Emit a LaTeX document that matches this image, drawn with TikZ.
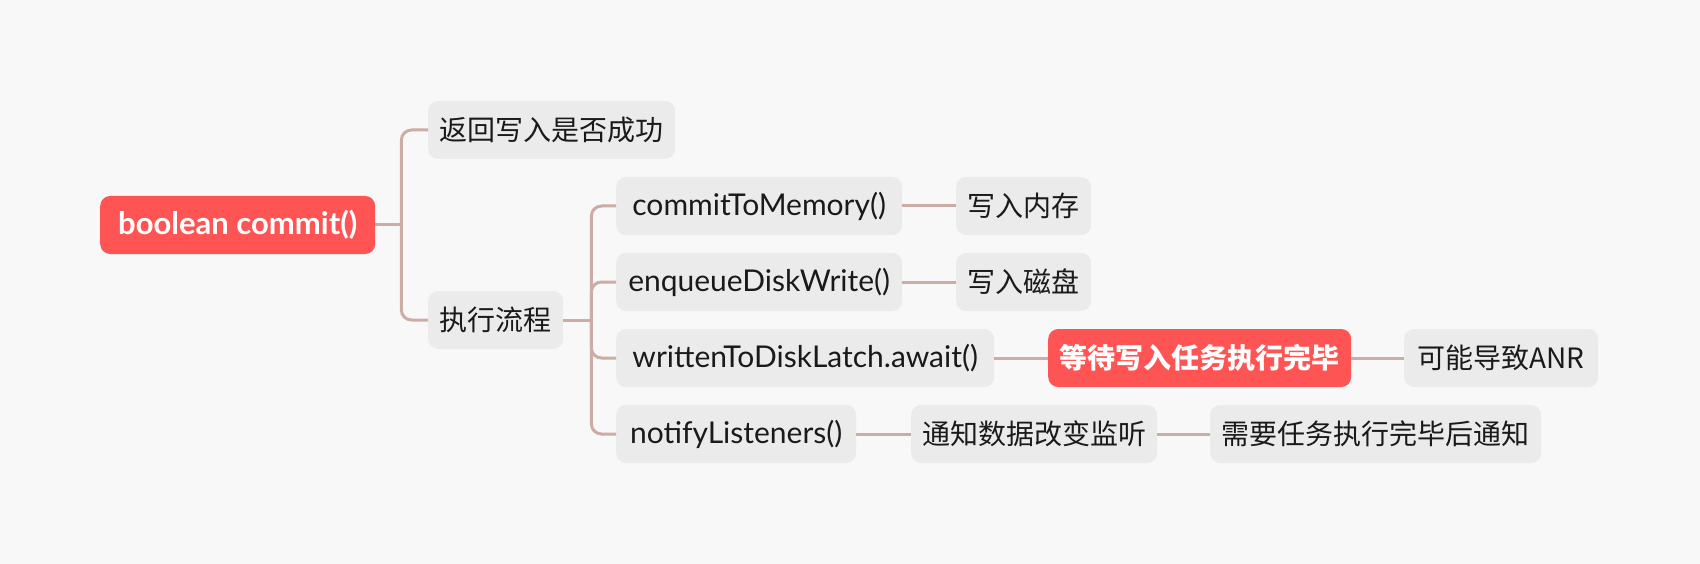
\documentclass[tikz,border=0pt]{standalone}
\usepackage{fontspec}
\setmainfont{Lato}
\newfontfamily\cjk{Noto Sans CJK SC}
\usetikzlibrary{calc}
\definecolor{bgcol}{HTML}{F8F8F8}
\definecolor{boxcol}{HTML}{EBEBEB}
\definecolor{hotcol}{HTML}{FF5454}
\definecolor{linkcol}{HTML}{CCADA5}
\definecolor{inkcol}{HTML}{1A1A1A}
\tikzset{
	topic/.style={draw=none, fill=boxcol, rounded corners=10pt, minimum height=58pt, inner sep=0pt, anchor=west, text=inkcol, font=\fontsize{30}{34}\selectfont},
	note/.style={topic, font=\cjk\fontsize{28}{32}\selectfont},
	hot/.style={topic, fill=hotcol, text=white, font=\fontsize{31}{35}\selectfont\bfseries},
	hotnote/.style={hot, font=\cjk\fontsize{28}{32}\selectfont\bfseries},
	link/.style={draw=linkcol, line width=3pt, rounded corners=10pt}
}
\begin{document}
\begin{tikzpicture}[x=1pt, y=-1pt]
			%%%%% START %%%%%
			
			\fill[bgcol] (0, 0) rectangle (1700, 564);
			
			\node[hot, minimum width=275pt] (root) at (100, 225) {boolean commit()};
			
			\node[note, minimum width=247pt] (ret) at (428, 130) {返回写入是否成功};
			\node[note, minimum width=135pt] (flow) at (428, 320) {执行流程};
			
			\node[topic, minimum width=286pt] (mem) at (616, 206) {commitToMemory()};
			\node[note, minimum width=135pt] (memnote) at (956, 206) {写入内存};
			
			\node[topic, minimum width=286pt] (disk) at (616, 282) {enqueueDiskWrite()};
			\node[note, minimum width=135pt] (disknote) at (956, 282) {写入磁盘};
			
			\node[topic, minimum width=378pt] (latch) at (616, 358) {writtenToDiskLatch.await()};
			\node[hotnote, minimum width=303pt] (wait) at (1048, 358) {等待写入任务执行完毕};
			\node[note, minimum width=194pt] (anr) at (1404, 358) {可能导致ANR};
			
			\node[topic, minimum width=240pt] (notify) at (616, 434) {notifyListeners()};
			\node[note, minimum width=246pt] (notice) at (911, 434) {通知数据改变监听};
			\node[note, minimum width=331pt] (after) at (1210, 434) {需要任务执行完毕后通知};
			
			% branches
			\coordinate (rootfork) at ($(root.east)+(26, 0)$);
			\draw[link] (root.east) -- (rootfork);
			\draw[link] (rootfork) |- (ret.west);
			\draw[link] (rootfork) |- (flow.west);
			
			\coordinate (flowfork) at ($(flow.east)+(28, 0)$);
			\draw[link] (flow.east) -- (flowfork);
			\draw[link] (flowfork) |- (mem.west);
			\draw[link] (flowfork) |- (disk.west);
			\draw[link] (flowfork) |- (latch.west);
			\draw[link] (flowfork) |- (notify.west);
			
			\draw[link] (mem.east) -- (memnote.west);
			\draw[link] (disk.east) -- (disknote.west);
			\draw[link] (latch.east) -- (wait.west);
			\draw[link] (wait.east) -- (anr.west);
			\draw[link] (notify.east) -- (notice.west);
			\draw[link] (notice.east) -- (after.west);
			
			%%%%% END %%%%%
		\end{tikzpicture}
\end{document}
